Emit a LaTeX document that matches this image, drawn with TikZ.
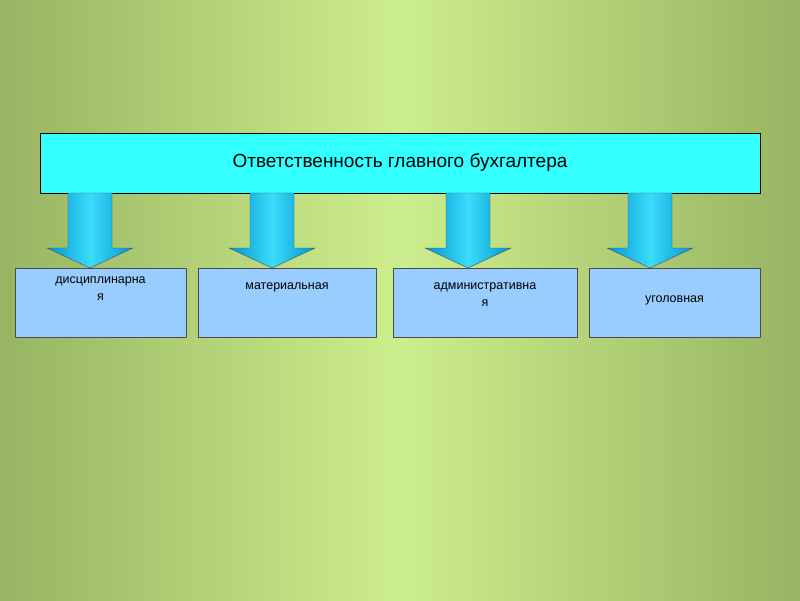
\documentclass[tikz,border=0pt]{standalone}
\usepackage{fontspec}
\setmainfont{Liberation Sans}
\usetikzlibrary{positioning,calc}
\definecolor{bgdark}{RGB}{100,125,60}
\definecolor{bglight}{RGB}{205,238,140}
\definecolor{topfill}{RGB}{51,255,255}
\definecolor{kindfill}{RGB}{153,204,255}
\definecolor{arrowside}{RGB}{0,150,210}
\definecolor{arrowmid}{RGB}{60,220,250}

\begin{document}
\begin{tikzpicture}[x=1pt, y=-1pt,
    mainbox/.style={draw=black, fill=topfill, minimum width=720pt, minimum height=60pt, font=\fontsize{19}{22}\selectfont, inner sep=0pt},
    kindbox/.style={draw=gray!60!black, fill=kindfill, minimum height=69pt, inner sep=0pt},
    kindtext/.style={anchor=north, align=center, font=\fontsize{12.5}{17}\selectfont, inner sep=0pt},
    bigarrow/.style={draw=gray!60!black, left color=arrowside, right color=arrowside, middle color=arrowmid}
]

% Background
\useasboundingbox (0,0) rectangle (800,600);
\clip (0,0) rectangle (800,600);
\begin{scope}[y=1pt]
  \shade[rotate around={-45:(400,-300)}, left color=bgdark, right color=bgdark, middle color=bglight]
    (-150,-850) rectangle (950,250);
\end{scope}

% Top box
\node[mainbox] (resp) at (400,163) {Ответственность главного бухгалтера};

% Kinds
\node[kindbox, minimum width=171pt] (disc) at (100.5,302.5) {};
\node[kindbox, minimum width=178pt] (mat) at (287,302.5) {};
\node[kindbox, minimum width=184pt] (adm) at (485,302.5) {};
\node[kindbox, minimum width=171pt] (crim) at (674.5,302.5) {};

\node[kindtext] at ($(disc.north)+(0,9)$) {дисциплинарна\\я};
\node[kindtext] at ($(mat.north)+(0,15)$) {материальная};
\node[kindtext] at ($(adm.north)+(0,15)$) {административна\\я};
\node[kindtext] at ($(crim.north)+(0,28)$) {уголовная};

% Arrows
\foreach \cx in {90,272,468,650}
  \draw[bigarrow] (\cx-22,193) -- (\cx+22,193) -- (\cx+22,248) -- (\cx+43,248)
    -- (\cx,268) -- (\cx-43,248) -- (\cx-22,248) -- cycle;

\end{tikzpicture}
\end{document}
